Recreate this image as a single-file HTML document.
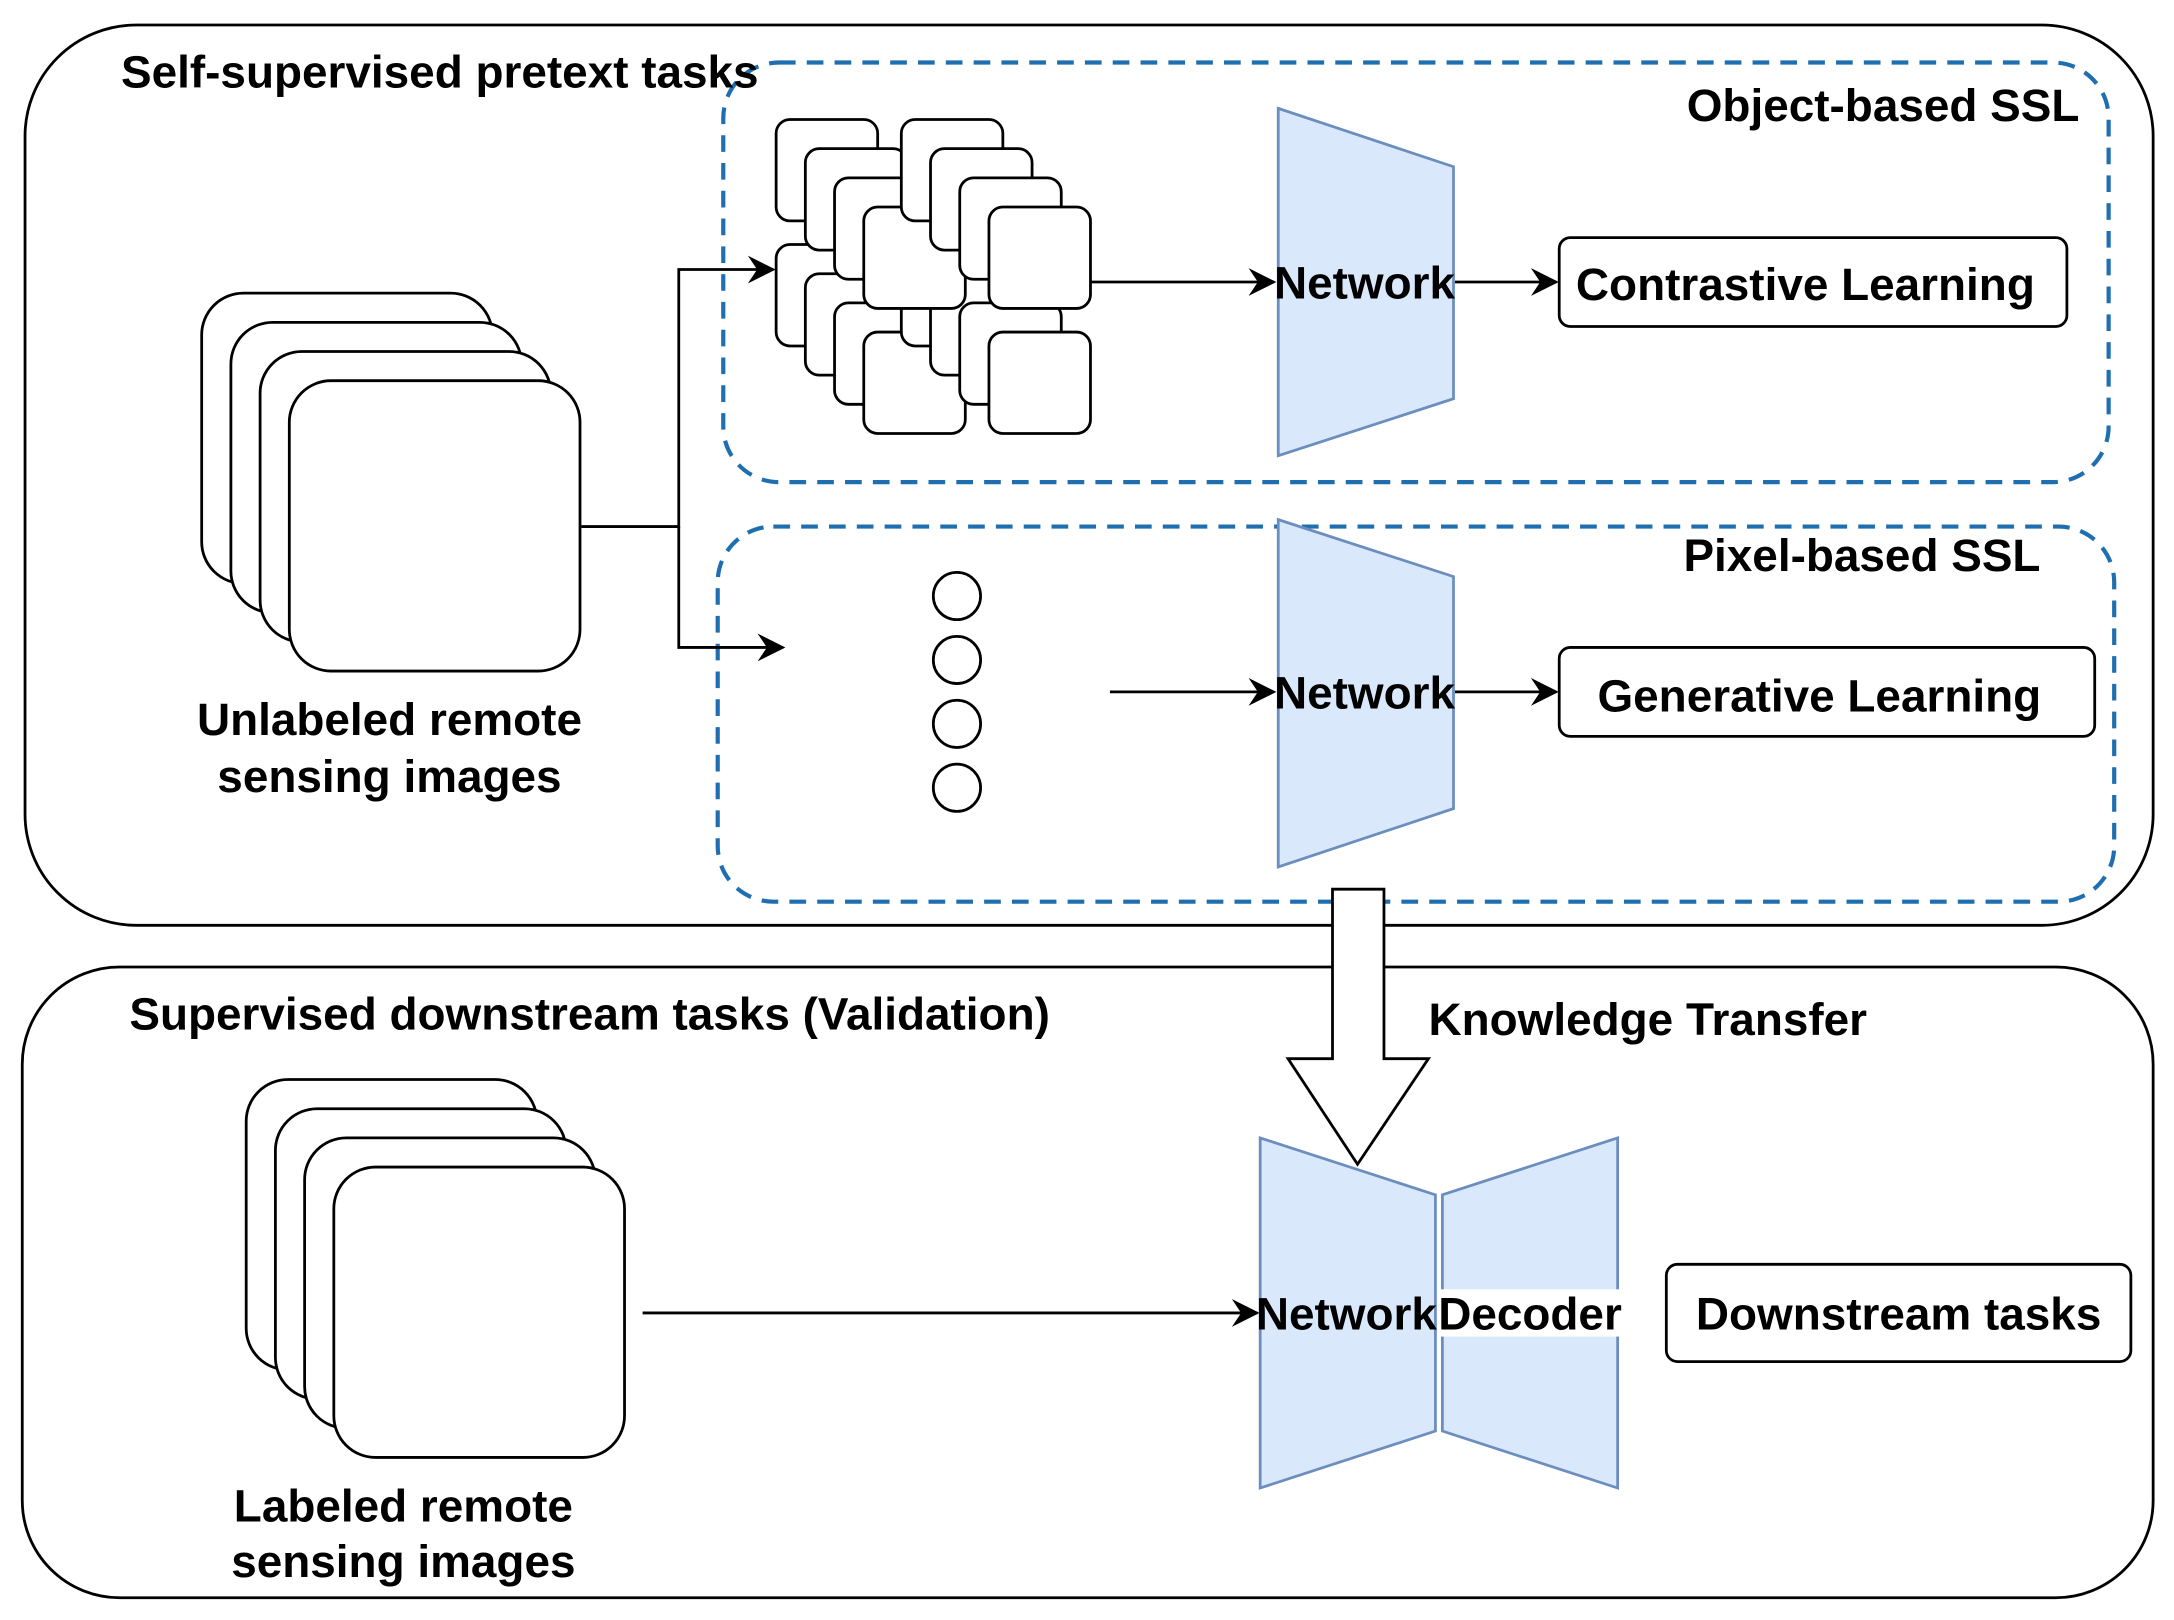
<!DOCTYPE html>
<html><head><meta charset="utf-8"><style>
html,body{margin:0;padding:0;background:#fff;}
svg{display:block;}
text{font-family:"Liberation Sans",sans-serif;font-weight:bold;fill:#000;}
</style></head><body>
<svg width="2174" height="1620" viewBox="0 0 1563 1166" preserveAspectRatio="none" xmlns="http://www.w3.org/2000/svg">
<defs>
<marker id="a" viewBox="0 0 12 12" refX="11" refY="6" markerWidth="20" markerHeight="20" orient="auto" markerUnits="userSpaceOnUse">
<path d="M0,0 L12,6 L0,12 L4,6 Z" fill="#000"/>
</marker>
</defs>
<g fill="#fff" stroke="#000" stroke-width="2">
<rect x="18" y="18" width="1530" height="648" rx="80"/>
<rect x="16" y="696" width="1532" height="454" rx="70"/>
</g>
<g fill="none" stroke="#1f6fb0" stroke-width="3" stroke-dasharray="12,8">
<rect x="520" y="45" width="996" height="302" rx="40"/>
<rect x="516" y="379" width="1004" height="270" rx="40"/>
</g>
<text x="87" y="63" font-size="33">Self-supervised pretext tasks</text>
<text x="1495" y="87" font-size="33" text-anchor="end">Object-based SSL</text>
<text x="1467" y="411" font-size="33" text-anchor="end">Pixel-based SSL</text>
<g fill="#fff" stroke="#000" stroke-width="2">
<rect x="145" y="211" width="209" height="209" rx="30"/>
<rect x="166" y="232" width="209" height="209" rx="30"/>
<rect x="187" y="253" width="209" height="209" rx="30"/>
<rect x="208" y="274" width="209" height="209" rx="30"/>
</g>
<text x="280" y="529" font-size="33" text-anchor="middle">Unlabeled remote</text>
<text x="280" y="570" font-size="33" text-anchor="middle">sensing images</text>
<g fill="none" stroke="#000" stroke-width="2">
<polyline points="418,379 488,379 488,194 556,194" marker-end="url(#a)"/>
<polyline points="488,379 488,466 563,466" marker-end="url(#a)"/>
<line x1="784" y1="203" x2="916" y2="203" marker-end="url(#a)"/>
<line x1="1046" y1="203" x2="1119" y2="203" marker-end="url(#a)"/>
<line x1="798" y1="498" x2="916" y2="498" marker-end="url(#a)"/>
<line x1="1046" y1="498" x2="1119" y2="498" marker-end="url(#a)"/>
<line x1="462" y1="945" x2="904" y2="945" marker-end="url(#a)"/>
</g>
<g fill="#fff" stroke="#000" stroke-width="2">
<rect x="558" y="176" width="73" height="73" rx="10"/><rect x="579" y="197" width="73" height="73" rx="10"/><rect x="600" y="218" width="73" height="73" rx="10"/><rect x="621" y="239" width="73" height="73" rx="10"/>
<rect x="648" y="176" width="73" height="73" rx="10"/><rect x="669" y="197" width="73" height="73" rx="10"/><rect x="690" y="218" width="73" height="73" rx="10"/><rect x="711" y="239" width="73" height="73" rx="10"/>
<rect x="558" y="86" width="73" height="73" rx="10"/><rect x="579" y="107" width="73" height="73" rx="10"/><rect x="600" y="128" width="73" height="73" rx="10"/><rect x="621" y="149" width="73" height="73" rx="10"/>
<rect x="648" y="86" width="73" height="73" rx="10"/><rect x="669" y="107" width="73" height="73" rx="10"/><rect x="690" y="128" width="73" height="73" rx="10"/><rect x="711" y="149" width="73" height="73" rx="10"/>
<circle cx="688" cy="429" r="17"/><circle cx="688" cy="475" r="17"/><circle cx="688" cy="521" r="17"/><circle cx="688" cy="567" r="17"/>
<rect x="1121" y="171" width="365" height="64" rx="8"/>
<rect x="1121" y="466" width="385" height="64" rx="8"/>
<rect x="1198" y="910" width="334" height="70" rx="8"/>
</g>
<g fill="#dae8fc" stroke="#6c8ebf" stroke-width="2">
<polygon points="919,78 1045,120 1045,287 919,328"/>
<polygon points="919,374 1045,415 1045,582 919,624"/>
<polygon points="906,819 1032,860 1032,1030 906,1071"/>
<polygon points="1037,860 1163,819 1163,1071 1037,1030"/>
</g>
<text x="981" y="215" font-size="33" text-anchor="middle">Network</text>
<text x="981" y="510" font-size="33" text-anchor="middle">Network</text>
<text x="1298" y="216" font-size="33" text-anchor="middle">Contrastive Learning</text>
<text x="1308" y="512" font-size="33" text-anchor="middle">Generative Learning</text>
<polygon points="958,640 995,640 995,762 1027,762 976,838 926,762 958,762" fill="#fff" stroke="#000" stroke-width="2"/>
<text x="1027" y="745" font-size="33">Knowledge Transfer</text>
<text x="93" y="741" font-size="33">Supervised downstream tasks (Validation)</text>
<g fill="#fff" stroke="#000" stroke-width="2">
<rect x="177" y="777" width="209" height="209" rx="30"/>
<rect x="198" y="798" width="209" height="209" rx="30"/>
<rect x="219" y="819" width="209" height="209" rx="30"/>
<rect x="240" y="840" width="209" height="209" rx="30"/>
</g>
<text x="290" y="1095" font-size="33" text-anchor="middle">Labeled remote</text>
<text x="290" y="1135" font-size="33" text-anchor="middle">sensing images</text>
<rect x="1034" y="928" width="132" height="34" fill="#fff"/>
<text x="968" y="957" font-size="33" text-anchor="middle">Network</text>
<text x="1100" y="957" font-size="33" text-anchor="middle">Decoder</text>
<text x="1365" y="957" font-size="33" text-anchor="middle">Downstream tasks</text>
</svg>
</body></html>
